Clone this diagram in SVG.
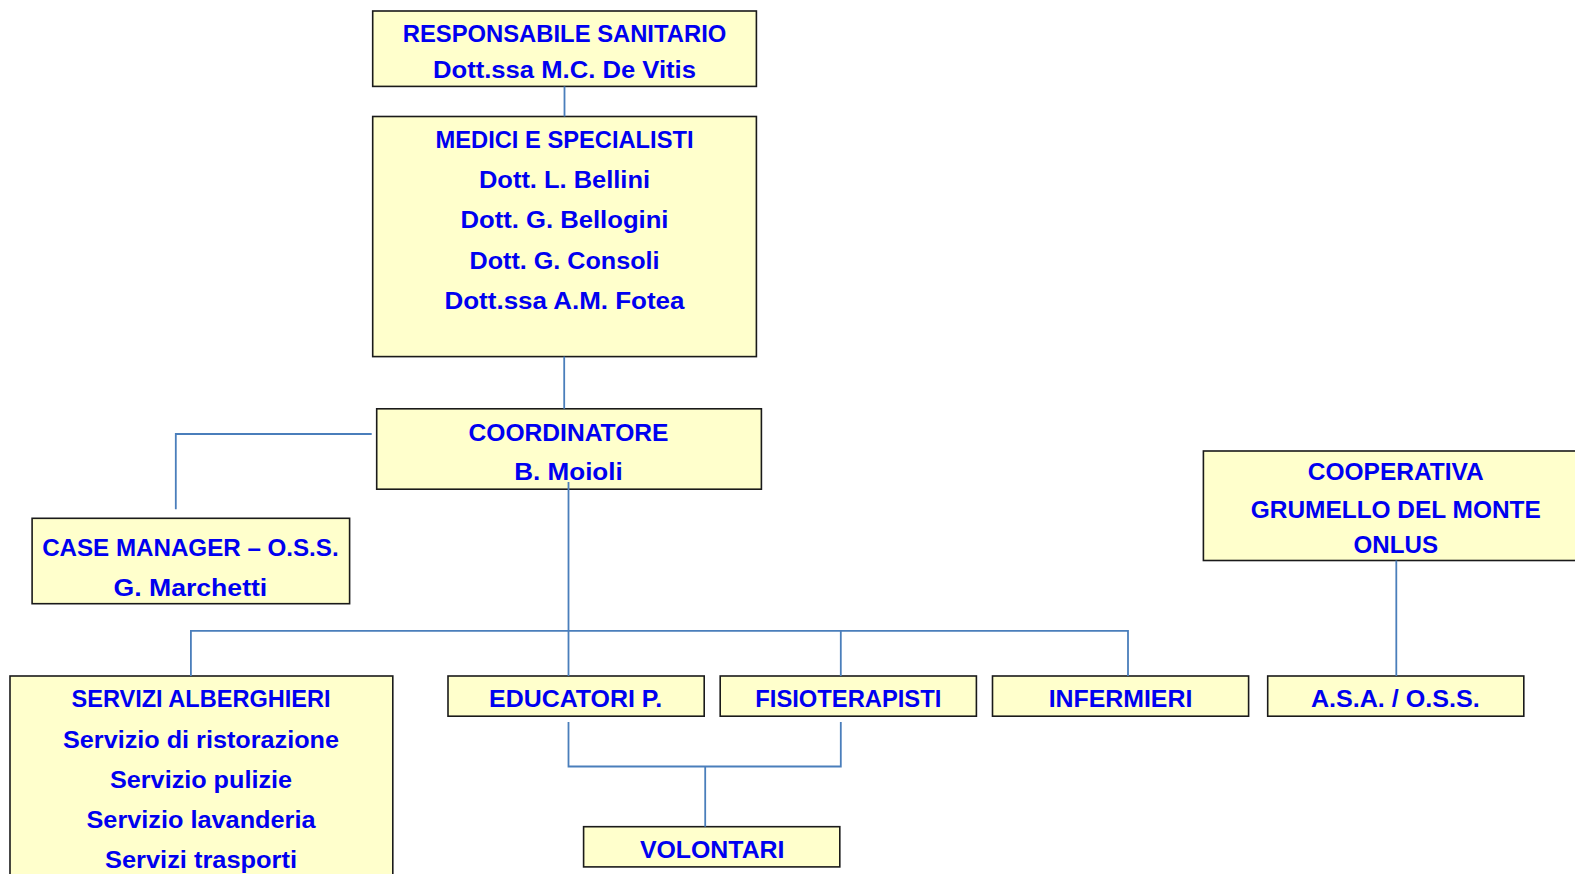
<svg xmlns="http://www.w3.org/2000/svg" width="1575" height="874" viewBox="0 0 1575 874">
<style>
.box{fill:#FFFFCC;stroke:#1a1a1a;stroke-width:1.6}
.t{font-family:"Liberation Sans",Arial,sans-serif;font-weight:bold;font-size:23px;fill:#0000F0;text-anchor:middle}
.c{fill:none;stroke:#4A7EBB;stroke-width:1.8}
</style>
<rect width="1575" height="874" fill="#FFFFFF"/>
<g id="responsabile">
<rect class="box" x="372.7" y="11" width="383.7" height="75.4"/>
<text class="t" x="564.5" y="41.5" textLength="323.5" lengthAdjust="spacingAndGlyphs">RESPONSABILE SANITARIO</text>
<text class="t" x="564.5" y="78.3" textLength="263" lengthAdjust="spacingAndGlyphs">Dott.ssa M.C. De Vitis</text>
</g>
<g id="medici">
<rect class="box" x="372.7" y="116.5" width="383.7" height="240.1"/>
<text class="t" x="564.5" y="148" textLength="258" lengthAdjust="spacingAndGlyphs">MEDICI E SPECIALISTI</text>
<text class="t" x="564.5" y="188.1" textLength="171" lengthAdjust="spacingAndGlyphs">Dott. L. Bellini</text>
<text class="t" x="564.5" y="228.3" textLength="208" lengthAdjust="spacingAndGlyphs">Dott. G. Bellogini</text>
<text class="t" x="564.5" y="268.5" textLength="190" lengthAdjust="spacingAndGlyphs">Dott. G. Consoli</text>
<text class="t" x="564.5" y="308.6" textLength="240" lengthAdjust="spacingAndGlyphs">Dott.ssa A.M. Fotea</text>
</g>
<g id="coordinatore">
<rect class="box" x="376.7" y="408.8" width="384.7" height="80.4"/>
<text class="t" x="568.5" y="441.2" textLength="200" lengthAdjust="spacingAndGlyphs">COORDINATORE</text>
<text class="t" x="568.5" y="480.4" textLength="108.5" lengthAdjust="spacingAndGlyphs">B. Moioli</text>
</g>
<g id="case-manager">
<rect class="box" x="32.1" y="518.3" width="317.5" height="85.4"/>
<text class="t" x="190.4" y="555.8" textLength="296.5" lengthAdjust="spacingAndGlyphs">CASE MANAGER – O.S.S.</text>
<text class="t" x="190.4" y="596" textLength="153.7" lengthAdjust="spacingAndGlyphs">G. Marchetti</text>
</g>
<g id="cooperativa">
<rect class="box" x="1203.4" y="451" width="380" height="109.5"/>
<text class="t" x="1395.8" y="480.4" textLength="176" lengthAdjust="spacingAndGlyphs">COOPERATIVA</text>
<text class="t" x="1395.8" y="517.6" textLength="290" lengthAdjust="spacingAndGlyphs">GRUMELLO DEL MONTE</text>
<text class="t" x="1395.8" y="552.7" textLength="84.4" lengthAdjust="spacingAndGlyphs">ONLUS</text>
</g>
<g id="servizi">
<rect class="box" x="10" y="676" width="382.8" height="210"/>
<text class="t" x="201" y="707.4" textLength="259" lengthAdjust="spacingAndGlyphs">SERVIZI ALBERGHIERI</text>
<text class="t" x="201" y="747.6" textLength="276" lengthAdjust="spacingAndGlyphs">Servizio di ristorazione</text>
<text class="t" x="201" y="787.8" textLength="182" lengthAdjust="spacingAndGlyphs">Servizio pulizie</text>
<text class="t" x="201" y="828" textLength="229" lengthAdjust="spacingAndGlyphs">Servizio lavanderia</text>
<text class="t" x="201" y="868" textLength="192" lengthAdjust="spacingAndGlyphs">Servizi trasporti</text>
</g>
<g id="educatori">
<rect class="box" x="448" y="676" width="256.2" height="40.2"/>
<text class="t" x="575.6" y="707.4" textLength="173" lengthAdjust="spacingAndGlyphs">EDUCATORI P.</text>
</g>
<g id="fisioterapisti">
<rect class="box" x="720.2" y="676" width="256.2" height="40.2"/>
<text class="t" x="848.3" y="707.4" textLength="186" lengthAdjust="spacingAndGlyphs">FISIOTERAPISTI</text>
</g>
<g id="infermieri">
<rect class="box" x="992.5" y="676" width="256.1" height="40.2"/>
<text class="t" x="1120.5" y="707.4" textLength="143.6" lengthAdjust="spacingAndGlyphs">INFERMIERI</text>
</g>
<g id="asa-oss">
<rect class="box" x="1267.7" y="676" width="256.1" height="40.2"/>
<text class="t" x="1395.3" y="707.4" textLength="168.8" lengthAdjust="spacingAndGlyphs">A.S.A. / O.S.S.</text>
</g>
<g id="volontari">
<rect class="box" x="583.6" y="826.7" width="256.2" height="40.2"/>
<text class="t" x="712.2" y="858" textLength="144.6" lengthAdjust="spacingAndGlyphs">VOLONTARI</text>
</g>
<g id="connectors">
<path class="c" d="M564.5 86.4V116.5"/>
<path class="c" d="M564.2 356.6V408.8"/>
<path class="c" d="M371.7 434H175.8V509.3"/>
<path class="c" d="M568.5 482V676"/>
<path class="c" d="M190.9 676V630.8H1128V676"/>
<path class="c" d="M840.8 630.8V676"/>
<path class="c" d="M1396.3 560.5V676"/>
<path class="c" d="M568.5 722V766.5H840.8V722"/>
<path class="c" d="M705.2 766.5V826.7"/>
</g>
</svg>
